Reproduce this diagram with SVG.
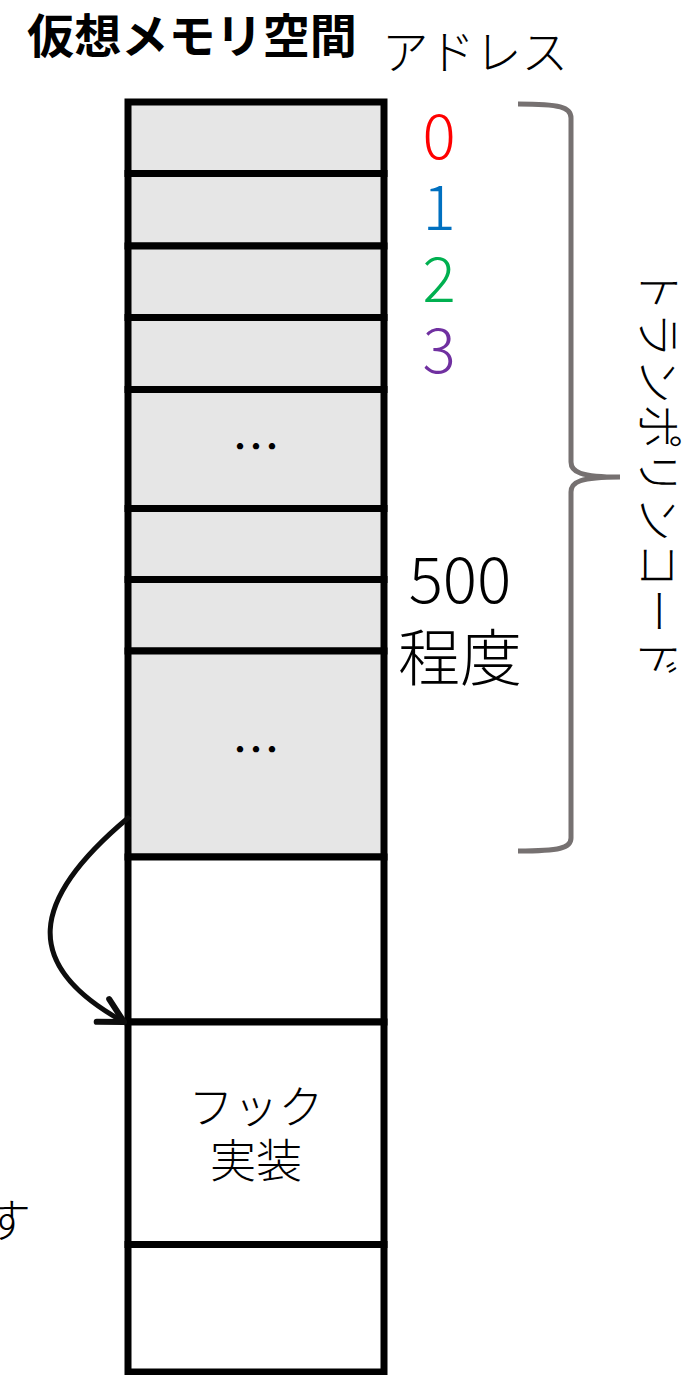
<svg xmlns="http://www.w3.org/2000/svg" width="687" height="1375" viewBox="0 0 687 1375">
<style>
.t{font-family:"Noto Sans CJK JP","Noto Sans",sans-serif;font-weight:300;fill:#000}
.b{font-family:"Noto Sans CJK JP","Noto Sans",sans-serif;font-weight:700;fill:#000}
.g{fill:#e6e6e6;stroke:#000;stroke-width:7}
.w{fill:#fff;stroke:#000;stroke-width:7}
.num{font-family:"Noto Sans CJK JP","Noto Sans",sans-serif;font-weight:300;font-size:62px;text-anchor:middle}
.dots{font-family:"Noto Sans CJK JP",sans-serif;font-size:48px;text-anchor:middle}
</style>
<defs>
<marker id="arr" markerUnits="userSpaceOnUse" markerWidth="40" markerHeight="40" viewBox="-30 -20 40 40" refX="0" refY="0" orient="auto">
<path d="M-24,-13 L0,0 L-24,13" fill="none" stroke="#0d0d0d" stroke-width="6" stroke-linecap="round" stroke-linejoin="round"/>
</marker>
</defs>
<g id="title"><text class="b" x="27" y="53" font-size="47" textLength="330" lengthAdjust="spacingAndGlyphs">仮想メモリ空間</text></g>
<g id="address-label"><text class="t" x="382" y="69" font-size="47" textLength="186" lengthAdjust="spacingAndGlyphs">アドレス</text></g>
<g id="cell0"><rect class="g" x="128" y="102" width="256" height="71.5"/></g>
<g id="cell1"><rect class="g" x="128" y="173.5" width="256" height="72.5"/></g>
<g id="cell2"><rect class="g" x="128" y="246" width="256" height="71.5"/></g>
<g id="cell3"><rect class="g" x="128" y="317.5" width="256" height="72"/></g>
<g id="cell4"><rect class="g" x="128" y="389.5" width="256" height="119"/><text class="dots" x="256" y="464">…</text></g>
<g id="cell5"><rect class="g" x="128" y="508.5" width="256" height="71"/></g>
<g id="cell6"><rect class="g" x="128" y="579.5" width="256" height="71.5"/></g>
<g id="cell7"><rect class="g" x="128" y="651" width="256" height="206"/><text class="dots" x="256" y="767">…</text></g>
<g id="cell8"><rect class="w" x="128" y="857" width="256" height="165"/></g>
<g id="hook"><rect class="w" x="128" y="1022" width="256" height="222.5"/>
<text class="t" x="256" y="1124" font-size="45" text-anchor="middle">フック</text>
<text class="t" x="256" y="1177" font-size="46" text-anchor="middle">実装</text></g>
<g id="cell10"><rect class="w" x="128" y="1244.5" width="256" height="127.5"/></g>
<g id="addresses">
<text class="num" x="439" y="159" fill="#ff0000">0</text>
<text class="num" x="439" y="230" fill="#0070c0">1</text>
<text class="num" x="439" y="302" fill="#00b050">2</text>
<text class="num" x="439" y="373" fill="#7030a0">3</text>
</g>
<g id="count"><text class="t" x="460" y="603" font-size="64" text-anchor="middle">500</text>
<text class="t" x="460" y="681" font-size="62" text-anchor="middle">程度</text></g>
<g id="brace"><path d="M518,104 C560,104 571,107 571,118 L571,462 C571,472 580,477 620,477 C580,477 571,482 571,492 L571,838 C571,848 560,851 518,851" fill="none" stroke="#767171" stroke-width="5"/></g>
<g id="trampoline-label"><text class="t" font-size="46" transform="translate(642,266) rotate(90)">トランポリンコード</text></g>
<g id="side-text"><text class="t" x="31" y="1237" font-size="46" text-anchor="end">す</text></g>
<g id="connectors"><path d="M128,818 C30,900 20,965 124,1022" fill="none" stroke="#0d0d0d" stroke-width="5" stroke-linecap="round" marker-end="url(#arr)"/></g>
</svg>
